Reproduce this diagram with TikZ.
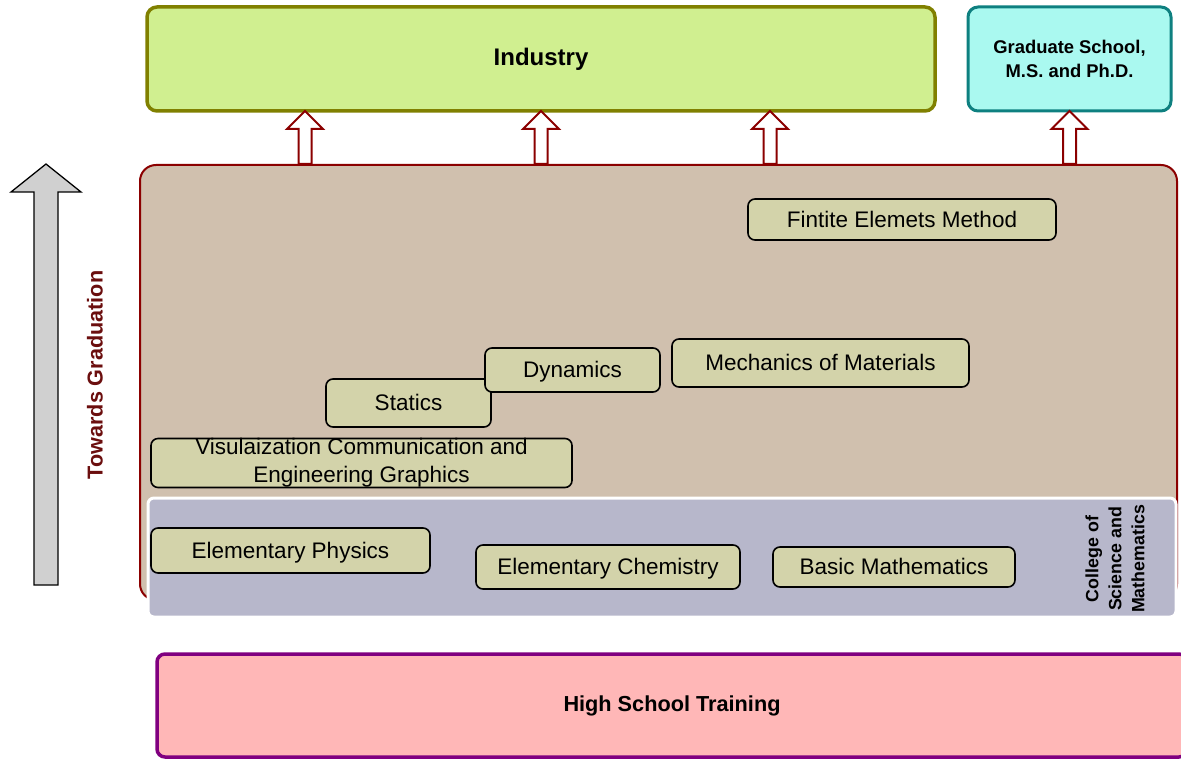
\documentclass[tikz,border=0pt]{standalone}
\usepackage{fontspec}
\setmainfont{Liberation Sans}
\definecolor{brownfill}{HTML}{D0C0AE}
\definecolor{arrowred}{HTML}{8B0000}
\definecolor{purplefill}{HTML}{B7B7CB}
\definecolor{coursefill}{HTML}{D3D3AA}
\definecolor{indfill}{HTML}{D0EF90}
\definecolor{indborder}{HTML}{808000}
\definecolor{gradfill}{HTML}{AAF9F0}
\definecolor{gradborder}{HTML}{0E8080}
\definecolor{hsfill}{HTML}{FFB7B7}
\definecolor{hsborder}{HTML}{800080}
\definecolor{grayarrow}{HTML}{D0D0D0}
\definecolor{towardred}{HTML}{6B0E0E}
\newcommand\blockup[3]{\draw[hollow] (#1-6.5,#3) -- (#1-6.5,#2+18) -- (#1-18,#2+18) -- (#1,#2) -- (#1+18,#2+18) -- (#1+6.5,#2+18) -- (#1+6.5,#3) -- cycle;}
\begin{document}
\begin{tikzpicture}[x=1pt,y=-1pt,
  course/.style={draw=black, line width=1.6pt, fill=coursefill, rounded corners=7pt, inner sep=0pt, align=center, font=\fontsize{22.5}{28}\selectfont},
  oneline/.style={text height=16pt, text depth=0.5pt},
  hollow/.style={draw=arrowred, line width=2pt, fill=white, line join=miter},
  bigbox/.style={rounded corners=10pt, inner sep=0pt, align=center},
]
\useasboundingbox (0,0) rectangle (1181,759);

% top boxes
\node[bigbox, draw=indborder, fill=indfill, line width=3.5pt, minimum width=788pt, minimum height=104pt,
  font=\bfseries\fontsize{24}{28}\selectfont] (ind) at (541,59) {Industry};
\node[bigbox, draw=gradborder, fill=gradfill, line width=3pt, minimum width=203pt, minimum height=104pt,
  font=\bfseries\fontsize{18.4}{24}\selectfont] (grad) at (1069.5,59) {Graduate School,\\M.S. and Ph.D.};

% major region
\node[draw=arrowred, fill=brownfill, line width=2pt, rounded corners=16pt, minimum width=1037pt, minimum height=435pt] (major) at (658.5,382.5) {};

% hollow arrows
\blockup{305}{111}{164}
\blockup{541}{111}{164}
\blockup{770}{111}{164}
\blockup{1069.5}{111}{164}

% college region
\node[draw=white, fill=purplefill, line width=3pt, rounded corners=6pt, minimum width=1028pt, minimum height=119pt] (college) at (662,557.5) {};
\node[rotate=90, align=center, font=\bfseries\fontsize{17.8}{23}\selectfont] (collegelabel) at (1115,559) {College of\\Science and\\Mathematics};

% courses
\node[course, oneline, minimum width=308pt, minimum height=41pt] (fem) at (902,219.5) {Fintite Elemets Method};
\node[course, oneline, minimum width=297pt, minimum height=48pt] (mech) at (820.5,363) {Mechanics of Materials};
\node[course, oneline, minimum width=165pt, minimum height=48pt] (statics) at (408.5,403) {Statics};
\node[course, oneline, minimum width=175pt, minimum height=44pt] (dyn) at (572.5,370) {Dynamics};
\node[course, minimum width=421pt, minimum height=46pt] (vis) at (361.5,463) {Visulaization Communication and\\Engineering Graphics};
\node[course, oneline, minimum width=279pt, minimum height=45pt] (phys) at (290.5,550.5) {Elementary Physics};
\node[course, oneline, minimum width=264pt, minimum height=44pt] (chem) at (608,567) {Elementary Chemistry};
\node[course, oneline, minimum width=242pt, minimum height=40pt] (math) at (894,567) {Basic Mathematics};

% high school
\node[bigbox, rounded corners=8pt, draw=hsborder, fill=hsfill, line width=3.5pt, minimum width=1030pt, minimum height=103pt,
  font=\bfseries\fontsize{21.7}{26}\selectfont] (hs) at (672,705.5) {High School Training};

% towards graduation arrow
\draw[black, line width=1.3pt, fill=grayarrow, line join=miter] (34,585) -- (34,192) -- (11,192) -- (46,164) -- (81,192) -- (58,192) -- (58,585) -- cycle;
\node[rotate=90, text=towardred, font=\bfseries\fontsize{21.6}{26}\selectfont] (toward) at (95,375) {Towards Graduation};
\end{tikzpicture}
\end{document}
